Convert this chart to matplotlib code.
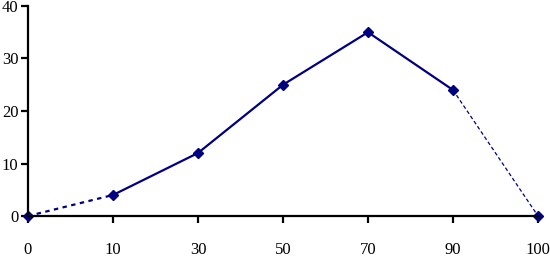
import numpy as np
import matplotlib.pyplot as plt

categories = ['0', '10', '30', '50', '70', '90', '100']
values = [0, 4, 12, 25, 35, 24, 0]

color = '#000080'
x = np.arange(len(categories))

fig = plt.figure(figsize=(5.5, 2.6), dpi=100)
ax = fig.add_axes([28 / 550, 44 / 260, 510 / 550, 210 / 260])

# dashed ends, solid middle
ax.plot(x[:2], values[:2], color=color, linestyle=(0, (2, 2)), linewidth=1.6)
ax.plot(x[1:6], values[1:6], color=color, linestyle='-', linewidth=1.6)
ax.plot(x[5:], values[5:], color=color, linestyle=(0, (3, 2)), linewidth=0.9)
ax.plot(x, values, linestyle='none', marker='D', markersize=5.5, color=color, clip_on=False)

ax.set_xlim(0, len(categories) - 1)
ax.set_ylim(0, 40)
ax.set_xticks(x)
ax.set_xticklabels(categories)
ax.set_yticks([0, 10, 20, 30, 40])

for s in ['top', 'right']:
    ax.spines[s].set_visible(False)
for s in ['left', 'bottom']:
    ax.spines[s].set_linewidth(1.6)
    ax.spines[s].set_color('black')

ax.tick_params(axis='x', direction='out', length=5, width=1.6, pad=14)
ax.tick_params(axis='y', direction='out', length=5, width=1.6, pad=2)
for lab in ax.get_xticklabels() + ax.get_yticklabels():
    lab.set_fontfamily('Liberation Serif')
    lab.set_fontsize(12)

fig.savefig('out.png', dpi=100)
